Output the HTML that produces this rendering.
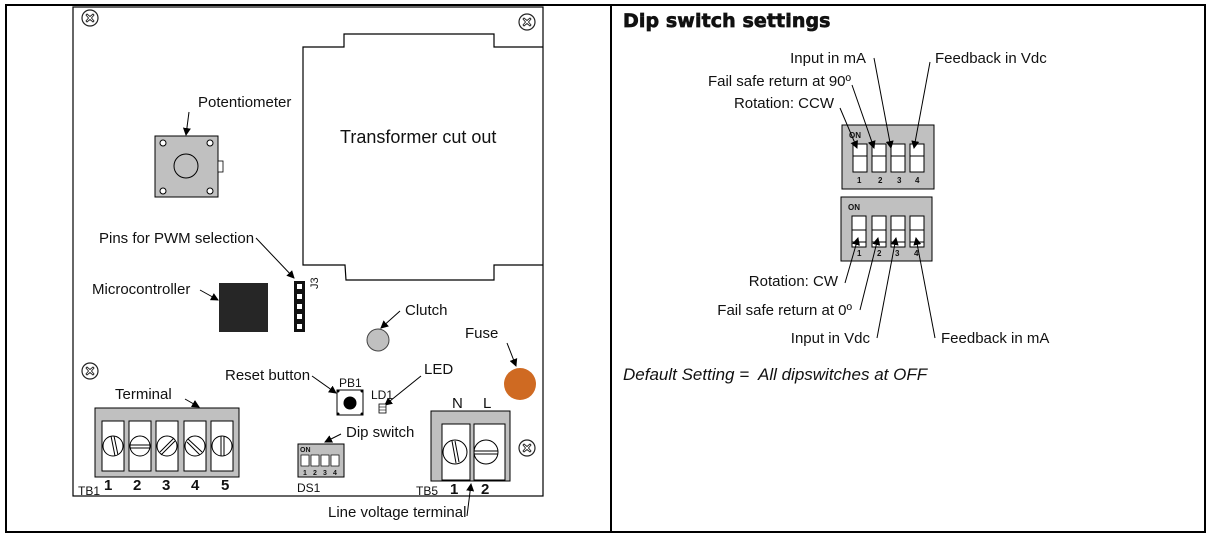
<!DOCTYPE html>
<html><head><meta charset="utf-8"><style>
html,body{margin:0;padding:0;background:#fff;width:1207px;height:538px;overflow:hidden}
svg text{font-family:"Liberation Sans",Arial,sans-serif;fill:#111}
</style></head><body>
<svg width="1207" height="538" viewBox="0 0 1207 538" xmlns="http://www.w3.org/2000/svg">
<defs>
<marker id="a" markerWidth="8" markerHeight="8" refX="7" refY="4" orient="auto" markerUnits="userSpaceOnUse"><path d="M0,0 L8,4 L0,8 z" fill="#000"/></marker>
<g id="scr"><circle r="8" fill="#fff" stroke="#222" stroke-width="1.2"/><path d="M-3,-4 L0,-1.5 L3,-4 L4,-3 L1.5,0 L4,3 L3,4 L0,1.5 L-3,4 L-4,3 L-1.5,0 L-4,-3 z" fill="none" stroke="#222" stroke-width="0.9"/></g>
</defs>
<rect x="6" y="5" width="1199" height="527" fill="none" stroke="#000" stroke-width="2"/>
<line x1="611" y1="5" x2="611" y2="532" stroke="#000" stroke-width="2"/>
<rect x="73" y="7" width="470" height="489" fill="none" stroke="#000" stroke-width="1.2"/>
<use href="#scr" x="90" y="18"/><use href="#scr" x="527" y="22"/><use href="#scr" x="90" y="371"/><use href="#scr" x="527" y="448"/>
<path d="M543,47 L494,47 L494,34 L344,34 L344,47 L303,47 L303,265 L345,265 L346,280 L494,280 L494,265 L543,265" fill="none" stroke="#000" stroke-width="1.2"/>
<text x="340" y="143" font-size="18">Transformer cut out</text>
<g font-size="15">
<text x="198" y="107">Potentiometer</text>
<text x="99" y="243">Pins for PWM selection</text>
<text x="92" y="294">Microcontroller</text>
<text x="405" y="315">Clutch</text>
<text x="465" y="338">Fuse</text>
<text x="225" y="380">Reset button</text>
<text x="424" y="374">LED</text>
<text x="115" y="399">Terminal</text>
<text x="346" y="437">Dip switch</text>
<text x="328" y="517">Line voltage terminal</text>
</g>
<line x1="189" y1="112" x2="186" y2="135" stroke="#000" marker-end="url(#a)"/>
<rect x="155" y="136" width="63" height="61" fill="#c0c0c0" stroke="#000"/>
<circle cx="186" cy="166" r="12" fill="none" stroke="#000"/>
<circle cx="163" cy="143" r="3" fill="#fff" stroke="#000"/><circle cx="210" cy="143" r="3" fill="#fff" stroke="#000"/>
<circle cx="163" cy="191" r="3" fill="#fff" stroke="#000"/><circle cx="210" cy="191" r="3" fill="#fff" stroke="#000"/>
<rect x="218" y="161" width="5" height="11" fill="#fff" stroke="#000" stroke-width="0.8"/>
<line x1="256" y1="238" x2="294" y2="278" stroke="#000" marker-end="url(#a)"/>
<rect x="294" y="281" width="11" height="51" fill="#111"/>
<g fill="#fff"><rect x="297" y="284" width="5" height="5"/><rect x="297" y="294" width="5" height="5"/><rect x="297" y="304" width="5" height="5"/><rect x="297" y="314" width="5" height="5"/><rect x="297" y="324" width="5" height="5"/></g>
<text x="0" y="0" font-size="11" transform="translate(318,289) rotate(-90)">J3</text>
<line x1="200" y1="290" x2="218" y2="300" stroke="#000" marker-end="url(#a)"/>
<rect x="219" y="283" width="49" height="49" fill="#262626"/>
<line x1="400" y1="311" x2="381" y2="328" stroke="#000" marker-end="url(#a)"/>
<circle cx="378" cy="340" r="11" fill="#c0c0c0" stroke="#444"/>
<line x1="507" y1="343" x2="516" y2="366" stroke="#000" marker-end="url(#a)"/>
<circle cx="520" cy="384" r="16" fill="#cf6a22"/>
<line x1="312" y1="376" x2="336" y2="393" stroke="#000" marker-end="url(#a)"/>
<text x="339" y="387" font-size="12">PB1</text>
<rect x="337" y="390" width="26" height="25" fill="#fff" stroke="#000"/>
<circle cx="350" cy="403" r="6.5" fill="#000"/>
<g fill="#000"><circle cx="338" cy="391" r="1.5"/><circle cx="362" cy="391" r="1.5"/><circle cx="338" cy="414" r="1.5"/><circle cx="362" cy="414" r="1.5"/></g>
<line x1="421" y1="376" x2="385" y2="405" stroke="#000" marker-end="url(#a)"/>
<text x="371" y="399" font-size="12">LD1</text>
<rect x="379" y="404" width="7" height="9" fill="#fff" stroke="#000" stroke-width="0.8"/>
<line x1="379" y1="407" x2="386" y2="407" stroke="#000" stroke-width="0.6"/><line x1="379" y1="410" x2="386" y2="410" stroke="#000" stroke-width="0.6"/>
<line x1="185" y1="399" x2="199" y2="407" stroke="#000" marker-end="url(#a)"/>
<rect x="95" y="408" width="144" height="69" fill="#c0c0c0" stroke="#000"/>
<g fill="#fff" stroke="#000">
<rect x="102" y="421" width="22" height="50"/><rect x="129" y="421" width="22" height="50"/><rect x="156" y="421" width="22" height="50"/><rect x="184" y="421" width="22" height="50"/><rect x="211" y="421" width="22" height="50"/>
<circle cx="113" cy="446" r="10"/><circle cx="140" cy="446" r="10"/><circle cx="167" cy="446" r="10"/><circle cx="195" cy="446" r="10"/><circle cx="222" cy="446" r="10"/>
</g>
<g stroke="#000" stroke-width="1">
<line x1="111" y1="436" x2="115" y2="456"/><line x1="114" y1="436" x2="118" y2="455"/>
<line x1="130" y1="445" x2="150" y2="445"/><line x1="130" y1="448" x2="150" y2="448"/>
<line x1="160" y1="452" x2="174" y2="438"/><line x1="161" y1="455" x2="175" y2="441"/>
<line x1="188" y1="439" x2="202" y2="452"/><line x1="187" y1="442" x2="200" y2="455"/>
<line x1="221" y1="436" x2="221" y2="456"/><line x1="224" y1="436" x2="224" y2="456"/>
</g>
<g font-size="15" font-weight="bold"><text x="104" y="490">1</text><text x="133" y="490">2</text><text x="162" y="490">3</text><text x="191" y="490">4</text><text x="221" y="490">5</text></g>
<text x="78" y="495" font-size="12">TB1</text>
<line x1="341" y1="434" x2="325" y2="442" stroke="#000" marker-end="url(#a)"/>
<rect x="298" y="444" width="46" height="33" fill="#c0c0c0" stroke="#000"/>
<text x="300" y="452" font-size="7" font-weight="bold">ON</text>
<g fill="#fff" stroke="#000" stroke-width="0.7">
<rect x="301" y="455" width="8" height="11"/><rect x="311" y="455" width="8" height="11"/><rect x="321" y="455" width="8" height="11"/><rect x="331" y="455" width="8" height="11"/>
</g>
<g font-size="7" font-weight="bold"><text x="303" y="475">1</text><text x="313" y="475">2</text><text x="323" y="475">3</text><text x="333" y="475">4</text></g>
<text x="297" y="492" font-size="12">DS1</text>
<text x="452" y="408" font-size="15">N</text><text x="483" y="408" font-size="15">L</text>
<rect x="431" y="411" width="79" height="70" fill="#c0c0c0" stroke="#000"/>
<g fill="#fff" stroke="#000">
<rect x="442" y="424" width="28" height="56"/><rect x="474" y="424" width="31" height="56"/>
<circle cx="455" cy="452" r="12"/><circle cx="486" cy="452" r="12"/>
</g>
<g stroke="#000"><line x1="452" y1="441" x2="456" y2="463"/><line x1="455" y1="441" x2="459" y2="462"/><line x1="474" y1="451" x2="498" y2="451"/><line x1="474" y1="454" x2="498" y2="454"/></g>
<text x="416" y="495" font-size="12">TB5</text>
<g font-size="15" font-weight="bold"><text x="450" y="494">1</text><text x="481" y="494">2</text></g>
<line x1="467" y1="516" x2="471" y2="484" stroke="#000" marker-end="url(#a)"/>
<text x="623" y="27" font-size="19" font-weight="bold" stroke="#111" stroke-width="0.7" style="font-family:'DejaVu Sans','Liberation Sans',sans-serif;letter-spacing:0.1px">Dip switch settings</text>
<rect x="842" y="125" width="92" height="64" fill="#c0c0c0" stroke="#000"/>
<text x="849" y="138" font-size="8" font-weight="bold">ON</text>
<g fill="#fff" stroke="#000">
<rect x="853" y="144" width="14" height="28"/><rect x="872" y="144" width="14" height="28"/><rect x="891" y="144" width="14" height="28"/><rect x="910" y="144" width="14" height="28"/>
<rect x="853" y="144" width="14" height="12"/><rect x="872" y="144" width="14" height="12"/><rect x="891" y="144" width="14" height="12"/><rect x="910" y="144" width="14" height="12"/>
</g>
<g font-size="8" font-weight="bold"><text x="857" y="183">1</text><text x="878" y="183">2</text><text x="897" y="183">3</text><text x="915" y="183">4</text></g>
<rect x="841" y="197" width="91" height="64" fill="#c0c0c0" stroke="#000"/>
<text x="848" y="210" font-size="8" font-weight="bold">ON</text>
<g fill="#fff" stroke="#000">
<rect x="852" y="216" width="14" height="31"/><rect x="872" y="216" width="14" height="31"/><rect x="891" y="216" width="14" height="31"/><rect x="910" y="216" width="14" height="31"/>
<rect x="852" y="230" width="14" height="12"/><rect x="872" y="230" width="14" height="12"/><rect x="891" y="230" width="14" height="12"/><rect x="910" y="230" width="14" height="12"/>
</g>
<g font-size="8" font-weight="bold"><text x="857" y="256">1</text><text x="877" y="256">2</text><text x="895" y="256">3</text><text x="914" y="256">4</text></g>
<g font-size="15">
<text x="866" y="63" text-anchor="end">Input in mA</text>
<text x="935" y="63">Feedback in Vdc</text>
<text x="851" y="86" text-anchor="end">Fail safe return at 90º</text>
<text x="834" y="108" text-anchor="end">Rotation: CCW</text>
<text x="838" y="286" text-anchor="end">Rotation: CW</text>
<text x="852" y="315" text-anchor="end">Fail safe return at 0º</text>
<text x="870" y="343" text-anchor="end">Input in Vdc</text>
<text x="941" y="343">Feedback in mA</text>
</g>
<g stroke="#000" stroke-width="1">
<line x1="874" y1="58" x2="891" y2="148" marker-end="url(#a)"/>
<line x1="930" y1="62" x2="914" y2="148" marker-end="url(#a)"/>
<line x1="852" y1="85" x2="874" y2="148" marker-end="url(#a)"/>
<line x1="840" y1="108" x2="857" y2="148" marker-end="url(#a)"/>
<line x1="845" y1="283" x2="858" y2="238" marker-end="url(#a)"/>
<line x1="860" y1="310" x2="878" y2="238" marker-end="url(#a)"/>
<line x1="877" y1="338" x2="896" y2="238" marker-end="url(#a)"/>
<line x1="935" y1="338" x2="916" y2="238" marker-end="url(#a)"/>
</g>
<text x="623" y="380" font-size="17" font-style="italic" style="white-space:pre" xml:space="preserve">Default Setting =  All dipswitches at OFF</text>
</svg>
</body></html>
